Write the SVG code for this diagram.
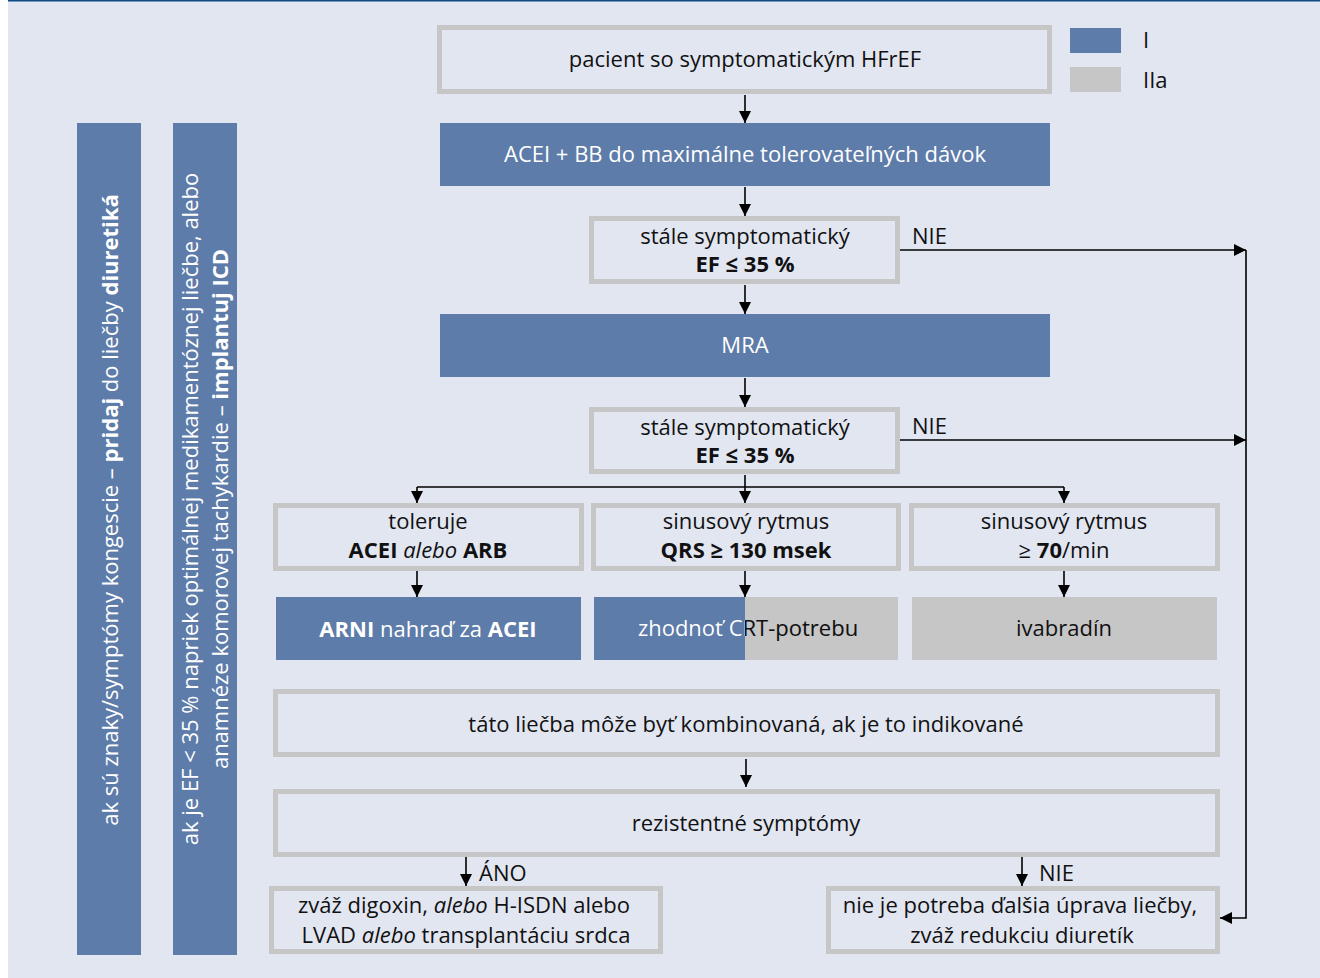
<svg xmlns="http://www.w3.org/2000/svg" width="1320" height="978" viewBox="0 0 1320 978">
<defs>
<style>
text{font-family:"Open Sans","Liberation Sans",sans-serif;font-size:22px;fill:#111;}
.w{fill:#fff;}
.c{text-anchor:middle;}
.b{font-weight:bold;}
.box{fill:#e2e6f1;stroke:#c6c6c6;stroke-width:5;}
.blue{fill:#5e7ca9;}
.grey{fill:#c6c6c6;}
.ln{stroke:#000;stroke-width:1.6;fill:none;}
</style>
<marker id="ah" viewBox="0 0 12 12" refX="12" refY="6" markerWidth="12" markerHeight="12" markerUnits="userSpaceOnUse" orient="auto">
<path d="M0,0 L12,6 L0,12 Z" fill="#000"/>
</marker>
<linearGradient id="split" gradientUnits="userSpaceOnUse" x1="594" y1="0" x2="898" y2="0">
<stop offset="0" stop-color="#fff"/><stop offset="0.4967" stop-color="#fff"/><stop offset="0.4967" stop-color="#111"/><stop offset="1" stop-color="#111"/>
</linearGradient>
</defs>
<rect x="0" y="0" width="1320" height="978" fill="#fff"/>
<rect x="8" y="1" width="1312" height="977" fill="#e2e6f1"/>
<rect x="8" y="0" width="1312" height="1.5" fill="#0b4a85"/>

<g id="legend">
<rect x="1070" y="28" width="51" height="25" class="blue"/>
<rect x="1070" y="67" width="51" height="25" class="grey"/>
<text x="1143" y="48">I</text>
<text x="1143" y="88">IIa</text>
</g>

<g id="bar1">
<rect x="77" y="123" width="64" height="832" class="blue"/>
<text class="w c" transform="translate(118,510) rotate(-90)">ak sú znaky/symptómy kongescie  – <tspan class="b">pridaj</tspan> do liečby <tspan class="b">diuretiká</tspan></text>
</g>
<g id="bar2">
<rect x="173" y="123" width="64" height="832" class="blue"/>
<text class="w c" transform="translate(198,509) rotate(-90)">ak je EF &lt; 35 % napriek optimálnej medikamentóznej liečbe, alebo</text>
<text class="w c" transform="translate(228,509) rotate(-90)">anamnéze komorovej tachykardie – <tspan class="b">implantuj ICD</tspan></text>
</g>

<g id="n1"><rect x="439.5" y="27.5" width="610" height="64" class="box"/><text x="745" y="67" class="c">pacient so symptomatickým HFrEF</text></g>
<g id="n2"><rect x="440" y="123" width="610" height="63" class="blue"/><text x="745" y="162" class="c w">ACEI + BB do maximálne tolerovateľných dávok</text></g>
<g id="n3"><rect x="591.5" y="218.5" width="306" height="63" class="box"/><text x="745" y="244" class="c">stále symptomatický</text><text x="745" y="272" class="c b">EF ≤ 35 %</text></g>
<g id="n4"><rect x="440" y="314" width="610" height="63" class="blue"/><text x="745" y="353" class="c w">MRA</text></g>
<g id="n5"><rect x="591.5" y="409.5" width="306" height="62" class="box"/><text x="745" y="435" class="c">stále symptomatický</text><text x="745" y="463" class="c b">EF ≤ 35 %</text></g>
<g id="n6"><rect x="275.5" y="505.5" width="306" height="63" class="box"/><text x="428" y="529" class="c">toleruje</text><text x="428" y="558" class="c"><tspan class="b">ACEI</tspan> <tspan font-style="italic">alebo</tspan> <tspan class="b">ARB</tspan></text></g>
<g id="n7"><rect x="593.5" y="505.5" width="305" height="63" class="box"/><text x="746" y="529" class="c">sinusový rytmus</text><text x="746" y="558" class="c b">QRS ≥ 130 msek</text></g>
<g id="n8"><rect x="911.5" y="505.5" width="306" height="63" class="box"/><text x="1064" y="529" class="c">sinusový rytmus</text><text x="1064" y="558" class="c">≥ <tspan class="b">70</tspan>/min</text></g>
<g id="n9"><rect x="276" y="597" width="305" height="63" class="blue"/><text x="428" y="637" class="c w"><tspan class="b">ARNI</tspan> nahraď za <tspan class="b">ACEI</tspan></text></g>
<g id="n10"><rect x="594" y="597" width="151" height="63" class="blue"/><rect x="745" y="597" width="153" height="63" class="grey"/><text x="748" y="636" class="c" style="fill:url(#split)">zhodnoť CRT-potrebu</text></g>
<g id="n11"><rect x="912" y="597" width="305" height="63" class="grey"/><text x="1064" y="636" class="c">ivabradín</text></g>
<g id="n12"><rect x="275.5" y="691.5" width="942" height="63" class="box"/><text x="746" y="732" class="c">táto liečba môže byť kombinovaná, ak je to indikované</text></g>
<g id="n13"><rect x="275.5" y="791.5" width="942" height="63" class="box"/><text x="746" y="831" class="c">rezistentné symptómy</text></g>
<g id="n14"><rect x="271.5" y="888.5" width="389" height="63" class="box"/><text x="464" y="913" class="c">zváž digoxin, <tspan font-style="italic">alebo</tspan> H-ISDN alebo</text><text x="466" y="943" class="c">LVAD <tspan font-style="italic">alebo</tspan> transplantáciu srdca</text></g>
<g id="n15"><rect x="828.5" y="888.5" width="389" height="63" class="box"/><text x="1020" y="913" class="c">nie je potreba ďalšia úprava liečby,</text><text x="1022" y="943" class="c">zváž redukciu diuretík</text></g>

<g id="connectors">
<path class="ln" d="M745,95 V123" marker-end="url(#ah)"/>
<path class="ln" d="M745,187 V216" marker-end="url(#ah)"/>
<path class="ln" d="M745,285 V314" marker-end="url(#ah)"/>
<path class="ln" d="M745,378 V407" marker-end="url(#ah)"/>
<path class="ln" d="M745,475 V503" marker-end="url(#ah)"/>
<path class="ln" d="M417,487 H1064"/>
<path class="ln" d="M417,487 V503" marker-end="url(#ah)"/>
<path class="ln" d="M1064,487 V503" marker-end="url(#ah)"/>
<path class="ln" d="M417,571 V597" marker-end="url(#ah)"/>
<path class="ln" d="M745,571 V597" marker-end="url(#ah)"/>
<path class="ln" d="M1064,571 V597" marker-end="url(#ah)"/>
<path class="ln" d="M746,759 V787" marker-end="url(#ah)"/>
<path class="ln" d="M466,857 V886" marker-end="url(#ah)"/>
<path class="ln" d="M1022,857 V886" marker-end="url(#ah)"/>
<path class="ln" d="M900,250 H1246" marker-end="url(#ah)"/>
<path class="ln" d="M900,440 H1246" marker-end="url(#ah)"/>
<path class="ln" d="M1246,250 V918 H1220" marker-end="url(#ah)"/>
<text x="912" y="244">NIE</text>
<text x="912" y="434">NIE</text>
<text x="479" y="881">ÁNO</text>
<text x="1039" y="881">NIE</text>
</g>
</svg>
